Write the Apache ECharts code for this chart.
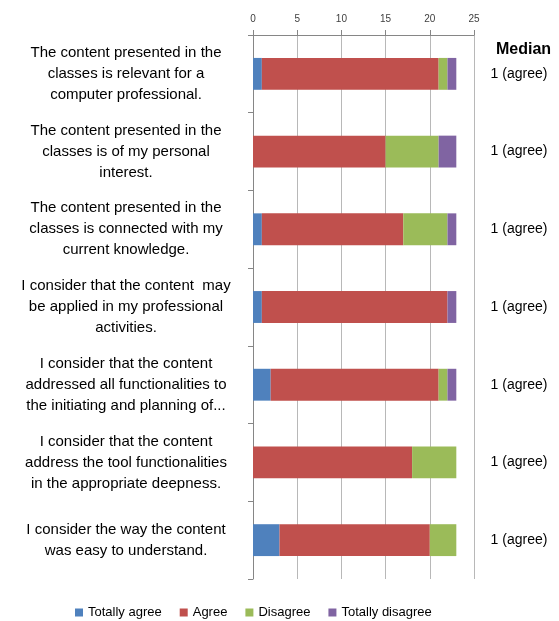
<!DOCTYPE html>
<html>
<head>
<meta charset="utf-8">
<script src="https://cdn.jsdelivr.net/npm/echarts@6/dist/echarts.min.js"></script>
<style>
  html, body { margin: 0; padding: 0; background: #fff; }
  #chart { width: 559px; height: 621px; }
</style>
</head>
<body>
<div id="chart"></div>
<script>
// survey statements (top to bottom)
var categories = [
  'The content presented in the\nclasses is relevant for a\ncomputer professional.',
  'The content presented in the\nclasses is of my personal\ninterest.',
  'The content presented in the\nclasses is connected with my\ncurrent knowledge.',
  'I consider that the content  may\nbe applied in my professional\nactivities.',
  'I consider that the content\naddressed all functionalities to\nthe initiating and planning of...',
  'I consider that the content\naddress the tool functionalities\nin the appropriate deepness.',
  'I consider the way the content\nwas easy to understand.'
];
var totallyAgree    = [1, 0, 1, 1, 2, 0, 3];
var agree           = [20, 15, 16, 21, 19, 18, 17];
var disagree        = [1, 6, 5, 0, 1, 5, 3];
var totallyDisagree = [1, 2, 1, 1, 1, 0, 0];
var medians = ['1 (agree)', '1 (agree)', '1 (agree)', '1 (agree)', '1 (agree)', '1 (agree)', '1 (agree)'];

var font = 'Liberation Sans';
var chart = echarts.init(document.getElementById('chart'));

function bar(name, data, color) {
  return {
    name: name,
    type: 'bar',
    stack: 'total',
    barWidth: '41%',
    data: data,
    itemStyle: { color: color },
    emphasis: { disabled: true }
  };
}

chart.setOption({
  animation: false,
  textStyle: { fontFamily: font },
  title: {
    text: 'Median',
    left: 491, top: 37,
    textStyle: { fontFamily: font, fontSize: 16, fontWeight: 'bold', color: '#000' }
  },
  grid: { left: 253, right: 85, top: 35, bottom: 42 },
  legend: {
    left: 70, top: 601,
    icon: 'rect',
    itemWidth: 8, itemHeight: 8, itemGap: 18,
    textStyle: { fontFamily: font, fontSize: 13, color: '#000' },
    data: ['Totally agree', 'Agree', 'Disagree', 'Totally disagree']
  },
  xAxis: {
    type: 'value',
    position: 'top',
    min: 0, max: 25, interval: 5,
    axisLine: { show: true, lineStyle: { color: '#868686' } },
    axisTick: { show: true, length: 5, lineStyle: { color: '#868686' } },
    axisLabel: { fontSize: 10, color: '#404040', margin: 11 },
    splitLine: { show: true, lineStyle: { color: '#b8b8b8', width: 1 } }
  },
  yAxis: [{
    type: 'category',
    inverse: true,
    data: categories,
    axisLine: { show: true, lineStyle: { color: '#868686' } },
    axisTick: { show: true, length: 5, lineStyle: { color: '#868686' } },
    axisLabel: { align: 'center', margin: 127, fontSize: 15, lineHeight: 21, color: '#000' }
  }, {
    type: 'category',
    inverse: true,
    position: 'right',
    data: medians,
    axisLine: { show: false },
    axisTick: { show: false },
    axisLabel: { align: 'center', margin: 45, fontSize: 14, color: '#000' }
  }],
  series: [
    bar('Totally agree', totallyAgree, '#4F81BD'),
    bar('Agree', agree, '#C0504D'),
    bar('Disagree', disagree, '#9BBB59'),
    bar('Totally disagree', totallyDisagree, '#8064A2')
  ]
});
</script>
</body>
</html>
